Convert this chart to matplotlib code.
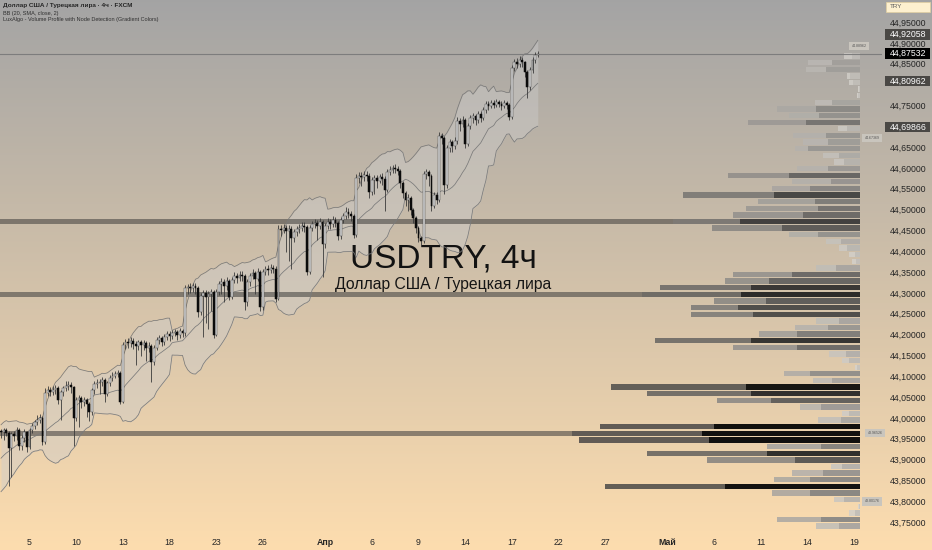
import numpy as np
import pandas as pd
import matplotlib
matplotlib.use('Agg')
import matplotlib.pyplot as plt
from matplotlib.patches import Rectangle

plt.rcParams['font.family'] = ['Liberation Sans', 'DejaVu Sans']

## 4h candles, USDTRY (FXCM), first bar 2026-03-03 04:00
first_open = 43.972
closes = [43.968, 43.973, 43.966, 43.930, 43.964, 43.959, 43.973, 43.935, 43.954, 43.968,
          43.932, 43.973, 43.983, 43.992, 43.997, 44.002, 43.944, 44.062, 44.069, 44.064,
          44.069, 44.074, 44.045, 44.064, 44.074, 44.079, 44.081, 44.076, 44.002, 44.045,
          44.050, 44.040, 44.045, 44.036, 44.016, 44.069, 44.084, 44.086, 44.088, 44.093,
          44.060, 44.086, 44.098, 44.103, 44.108, 44.110, 44.040, 44.177, 44.184, 44.182,
          44.187, 44.180, 44.175, 44.184, 44.177, 44.182, 44.170, 44.175, 44.136, 44.170,
          44.189, 44.194, 44.184, 44.196, 44.204, 44.199, 44.206, 44.208, 44.201, 44.211,
          44.206, 44.314, 44.316, 44.314, 44.319, 44.314, 44.256, 44.295, 44.302, 44.292,
          44.300, 44.304, 44.201, 44.304, 44.324, 44.328, 44.319, 44.331, 44.292, 44.333,
          44.343, 44.338, 44.345, 44.343, 44.280, 44.328, 44.343, 44.350, 44.336, 44.352,
          44.268, 44.352, 44.360, 44.357, 44.362, 44.360, 44.288, 44.456, 44.453, 44.458,
          44.451, 44.456, 44.434, 44.448, 44.456, 44.458, 44.463, 44.460, 44.352, 44.458,
          44.468, 44.470, 44.463, 44.472, 44.420, 44.463, 44.472, 44.468, 44.477, 44.470,
          44.439, 44.477, 44.487, 44.496, 44.492, 44.487, 44.441, 44.578, 44.583, 44.580,
          44.585, 44.583, 44.544, 44.573, 44.578, 44.571, 44.580, 44.576, 44.549, 44.592,
          44.597, 44.602, 44.600, 44.595, 44.566, 44.542, 44.525, 44.530, 44.501, 44.482,
          44.458, 44.434, 44.427, 44.588, 44.592, 44.583, 44.511, 44.537, 44.525, 44.679,
          44.674, 44.561, 44.650, 44.664, 44.655, 44.667, 44.715, 44.708, 44.717, 44.660,
          44.703, 44.722, 44.727, 44.717, 44.732, 44.722, 44.741, 44.756, 44.751, 44.758,
          44.753, 44.760, 44.756, 44.751, 44.758, 44.753, 44.724, 44.842, 44.856, 44.852,
          44.861, 44.856, 44.832, 44.796, 44.837, 44.861, 44.873, 44.87532]
highs = [43.976, 43.979, 43.977, 43.970, 43.968, 43.972, 43.980, 43.978, 43.962, 43.975,
         43.972, 43.978, 43.990, 43.998, 44.010, 44.012, 44.008, 44.075, 44.078, 44.076,
         44.080, 44.082, 44.079, 44.070, 44.080, 44.090, 44.092, 44.088, 44.080, 44.052,
         44.058, 44.056, 44.052, 44.050, 44.040, 44.075, 44.090, 44.095, 44.096, 44.100,
         44.098, 44.092, 44.105, 44.112, 44.116, 44.118, 44.114, 44.185, 44.192, 44.195,
         44.196, 44.194, 44.188, 44.190, 44.190, 44.190, 44.188, 44.185, 44.180, 44.178,
         44.196, 44.202, 44.200, 44.204, 44.212, 44.210, 44.214, 44.216, 44.214, 44.218,
         44.216, 44.322, 44.324, 44.325, 44.326, 44.325, 44.320, 44.302, 44.310, 44.310,
         44.308, 44.312, 44.310, 44.312, 44.332, 44.338, 44.335, 44.340, 44.336, 44.340,
         44.352, 44.350, 44.354, 44.356, 44.348, 44.336, 44.350, 44.360, 44.356, 44.362,
         44.358, 44.360, 44.368, 44.370, 44.372, 44.370, 44.366, 44.465, 44.465, 44.468,
         44.466, 44.465, 44.462, 44.455, 44.464, 44.468, 44.472, 44.472, 44.466, 44.465,
         44.476, 44.480, 44.478, 44.482, 44.478, 44.470, 44.482, 44.480, 44.486, 44.484,
         44.476, 44.484, 44.495, 44.508, 44.505, 44.500, 44.492, 44.588, 44.592, 44.592,
         44.596, 44.594, 44.590, 44.580, 44.586, 44.586, 44.588, 44.590, 44.582, 44.600,
         44.606, 44.610, 44.612, 44.608, 44.600, 44.572, 44.548, 44.540, 44.536, 44.506,
         44.488, 44.462, 44.440, 44.596, 44.600, 44.598, 44.588, 44.545, 44.545, 44.688,
         44.686, 44.680, 44.658, 44.672, 44.670, 44.676, 44.724, 44.722, 44.726, 44.722,
         44.710, 44.730, 44.735, 44.732, 44.740, 44.738, 44.748, 44.764, 44.762, 44.765,
         44.766, 44.768, 44.766, 44.764, 44.766, 44.764, 44.758, 44.850, 44.864, 44.866,
         44.870, 44.868, 44.860, 44.838, 44.844, 44.868, 44.880, 44.882]
lows = [43.955, 43.950, 43.958, 43.840, 43.860, 43.948, 43.950, 43.925, 43.925, 43.945,
        43.920, 43.928, 43.965, 43.975, 43.985, 43.990, 43.938, 43.940, 44.055, 44.055,
        44.058, 44.060, 44.035, 43.998, 44.055, 44.066, 44.070, 44.062, 43.935, 43.995,
        43.980, 44.025, 44.030, 44.005, 43.995, 44.010, 44.060, 44.075, 44.060, 44.080,
        44.040, 44.055, 44.080, 44.092, 44.098, 44.100, 44.035, 44.038, 44.168, 44.170,
        44.172, 44.168, 44.130, 44.165, 44.150, 44.165, 44.140, 44.160, 44.088, 44.130,
        44.165, 44.180, 44.175, 44.178, 44.190, 44.188, 44.192, 44.198, 44.190, 44.195,
        44.196, 44.200, 44.300, 44.302, 44.305, 44.300, 44.245, 44.250, 44.196, 44.230,
        44.215, 44.260, 44.195, 44.198, 44.298, 44.300, 44.280, 44.310, 44.285, 44.288,
        44.325, 44.325, 44.330, 44.332, 44.262, 44.272, 44.320, 44.335, 44.300, 44.330,
        44.258, 44.262, 44.345, 44.345, 44.350, 44.350, 44.280, 44.285, 44.440, 44.445,
        44.400, 44.380, 44.360, 44.425, 44.440, 44.445, 44.450, 44.448, 44.345, 44.348,
        44.450, 44.458, 44.430, 44.455, 44.340, 44.410, 44.455, 44.455, 44.460, 44.460,
        44.430, 44.432, 44.470, 44.480, 44.482, 44.475, 44.435, 44.436, 44.565, 44.560,
        44.570, 44.570, 44.530, 44.538, 44.540, 44.555, 44.565, 44.562, 44.500, 44.545,
        44.585, 44.590, 44.590, 44.585, 44.555, 44.530, 44.510, 44.500, 44.490, 44.470,
        44.445, 44.425, 44.418, 44.422, 44.575, 44.560, 44.500, 44.505, 44.515, 44.520,
        44.660, 44.540, 44.555, 44.640, 44.640, 44.648, 44.660, 44.690, 44.700, 44.650,
        44.655, 44.695, 44.710, 44.705, 44.710, 44.712, 44.718, 44.735, 44.742, 44.745,
        44.745, 44.748, 44.748, 44.742, 44.745, 44.744, 44.718, 44.720, 44.835, 44.842,
        44.845, 44.845, 44.820, 44.770, 44.790, 44.830, 44.855, 44.868]
# closes before the visible window (feed the first BB values)
pre_closes = [43.842, 43.851, 43.846, 43.860, 43.872, 43.868, 43.881, 43.895, 43.889, 43.902,
              43.915, 43.908, 43.924, 43.936, 43.930, 43.948, 43.957, 43.951, 43.966]

last_price = 44.87532
bb_labels = [44.92058, 44.80962, 44.69866]   # upper / basis / lower shown on the scale

## volume profile rows (top row first), total and dark part volume
vp_top = 44.8708
vp_step = 0.01589
vp_total = [16, 52, 54, 13, 11, 2, 3, 45, 83, 71,
            112, 22, 67, 57, 65, 37, 26, 63, 132, 68,
            88, 177, 102, 114, 127, 187, 148, 71, 34, 21,
            11, 8, 44, 127, 135, 200, 218, 146, 169, 169,
            44, 65, 101, 205, 127, 31, 18, 5, 76, 47,
            249, 213, 143, 60, 18, 42, 260, 288, 281, 93,
            213, 153, 29, 68, 86, 255, 88, 26, 2, 11,
            83, 44, 96]
vp_dark = [8, 28, 34, 10, 7, 1, 2, 28, 44, 41,
           54, 13, 34, 32, 52, 21, 16, 32, 71, 29,
           50, 86, 45, 42, 57, 120, 78, 42, 19, 13,
           5, 4, 24, 68, 91, 109, 119, 94, 122, 107,
           21, 32, 63, 109, 63, 14, 11, 3, 50, 28,
           114, 109, 89, 39, 11, 19, 146, 158, 151, 39,
           93, 65, 18, 37, 50, 135, 50, 16, 1, 5,
           39, 21, 63]
node_rows = [25, 36, 57]
node_levels = [44.88962, 44.67369, 43.96526, 43.80176]

## axis ticks
tick_dates = ['2026-03-05', '2026-03-10', '2026-03-13', '2026-03-18', '2026-03-23', '2026-03-26',
              '2026-04-01', '2026-04-06', '2026-04-09', '2026-04-14', '2026-04-17', '2026-04-22',
              '2026-04-27', '2026-05-01', '2026-05-06', '2026-05-11', '2026-05-14', '2026-05-19']
tick_labels = ['5', '10', '13', '18', '23', '26', 'Апр', '6', '9', '14', '17', '22',
               '27', 'Май', '6', '11', '14', '19']
price_ticks = np.arange(43.75, 44.951, 0.05)

## layout (pixels)
W, H = 932, 550
PX = 2.593      # px per bar
PPU = 416.67    # px per 1.0 of price
AXW, AXH = 882, 530

fig = plt.figure(figsize=(W / 100, H / 100), dpi=100)

# background gradient (gray -> peach)
bg = fig.add_axes([0, 0, 1, 1])
t = np.linspace(0, 1, 256)[:, None]
c_top = np.array([0.643, 0.643, 0.643])
c_bot = np.array([0.992, 0.866, 0.686])
grad = c_top * (1 - t) + c_bot * t
bg.imshow(grad[:, None, :], aspect='auto', extent=[0, 1, 0, 1])
bg.set_axis_off()

ax = fig.add_axes([0, (H - AXH) / H, AXW / W, AXH / H])
ax.patch.set_visible(False)
for s in ax.spines.values():
    s.set_visible(False)
xmin, xmax = -1 / PX, (AXW - 1) / PX
ax.set_xlim(xmin, xmax)
ax.set_ylim(44.95 - (AXH - 23) / PPU, 44.95 + 23 / PPU)

closes = np.array(closes)
n = len(closes)
idx = np.arange(n)
opens = np.r_[first_open, closes[:-1]]
highs = np.maximum(np.array(highs), np.maximum(opens, closes))
lows = np.minimum(np.array(lows), np.minimum(opens, closes))

# Bollinger bands (20, SMA, close, 2)
allc = pd.Series(np.r_[pre_closes, closes])
basis = allc.rolling(20).mean().to_numpy()[len(pre_closes):]
dev = allc.rolling(20).std(ddof=0).to_numpy()[len(pre_closes):]
upper, lower = basis + 2 * dev, basis - 2 * dev
ax.fill_between(idx, lower, upper, color='#cdcdcd', alpha=0.42, lw=0, zorder=1.5)
for line in (upper, lower, basis):
    ax.plot(idx, line, color='#7a7a7a', lw=0.55, zorder=2.5)

# watermark
ax.text(443 / W, 1 - 267 / H, 'USDTRY, 4ч', transform=fig.transFigure, ha='center',
        va='baseline', fontsize=24, color='#121212', zorder=1.8)
ax.text(443 / W, 1 - 289 / H, 'Доллар США / Турецкая лира', transform=fig.transFigure,
        ha='center', va='baseline', fontsize=11.3, color='#151515', zorder=1.8)

# volume profile
vt = np.array(vp_total, float)
vd = np.array(vp_dark, float)
rows = np.arange(len(vt))
yc = vp_top - rows * vp_step
xr = (860 - 1) / PX
v = vt / vt.max()
g = np.clip(0.79 - 0.86 * v, 0.02, 1)
gl = g + 0.27 * (1 - g)
dark_cols = [(a, a * 0.985, a * 0.96, 0.95) for a in g]
light_cols = [(a, a * 0.985, a * 0.96, 0.85) for a in gl]
bh = 0.0128
ax.barh(yc, (vt - vd) / PX, left=xr - vt / PX, height=bh, color=light_cols, lw=0, zorder=3)
ax.barh(yc, vd / PX, left=xr - vd / PX, height=bh, color=dark_cols, lw=0, zorder=3)
for k in node_rows:
    ax.barh(yc[k], xr - vt[k] / PX - xmin, left=xmin, height=0.0135,
            color='#4a4845', alpha=0.6, lw=0, zorder=2.2)

# candles
ax.vlines(idx, lows, highs, color='#3a3a3a', lw=0.6, zorder=4)
body_lo = np.minimum(opens, closes)
body_h = np.maximum(np.abs(closes - opens), 0.0015)
up = closes >= opens
ax.bar(idx[up], body_h[up], bottom=body_lo[up], width=0.72, color='#dcdcdc',
       edgecolor='#4a4a4a', lw=0.35, zorder=5)
ax.bar(idx[~up], body_h[~up], bottom=body_lo[~up], width=0.72, color='#0b0b0b',
       edgecolor='#0b0b0b', lw=0.35, zorder=5)

# last price line
ax.axhline(last_price, color='#7d7d7d', lw=0.8, zorder=3.5)

# node labels
ty = ax.get_yaxis_transform()
node_x = [859, 872, 875, 872]
node_dy = [2.2, 0, 0, 0]
for px, lv, dy in zip(node_x, node_levels, node_dy):
    ax.text(px / AXW, lv + dy / PPU, f'{lv:.5f}', transform=ty, ha='center', va='center',
            fontsize=2.6, color='#555555', clip_on=False, zorder=6,
            bbox=dict(boxstyle='square,pad=0.6', fc='#c9c5bd', ec='none'))

# price scale (ticks hidden behind the value boxes are skipped)
boxed = [bb_labels[0], last_price, bb_labels[1], bb_labels[2]]
for p in price_ticks:
    if min(abs(p - b) for b in boxed) * PPU < 6:
        continue
    ax.text(908 / AXW, p, f'{p:.5f}'.replace('.', ','), transform=ty, ha='center',
            va='center', fontsize=6.3, color='#262626', clip_on=False, zorder=6)
for p, fc in [(bb_labels[0], '#4a4845'), (last_price, '#000000'),
              (bb_labels[1], '#4a4845'), (bb_labels[2], '#4a4845')]:
    ax.add_patch(Rectangle((885 / AXW, p - 4.6 / PPU), 45 / AXW, 10.5 / PPU, transform=ty,
                           fc=fc, ec='none', clip_on=False, zorder=7))
    ax.text(908 / AXW, p + 0.6 / PPU, f'{p:.5f}'.replace('.', ','), transform=ty,
            ha='center', va='center', fontsize=6.3, color='white', clip_on=False, zorder=8)

# currency box
ax.add_patch(Rectangle((886 / AXW, 44.95 + 11 / PPU), 44 / AXW, 10 / PPU, transform=ty,
                       fc='#fdf0cf', ec='#e2cfa0', lw=0.5, clip_on=False, zorder=7))
ax.text(890 / AXW, 44.95 + 16 / PPU, 'TRY', transform=ty, ha='left', va='center',
        fontsize=4.5, color='#5a5a5a', clip_on=False, zorder=8)

# time axis
tick_idx = np.busday_count('2026-03-03', tick_dates) * 6 - 1
ax.set_xticks(tick_idx)
ax.set_xticklabels(tick_labels)
ax.tick_params(axis='x', length=0, pad=5.5, labelsize=6.3, labelcolor='#262626')
ax.set_yticks([])
for lab in ax.get_xticklabels():
    if lab.get_text() in ('Апр', 'Май'):
        lab.set_fontweight('bold')

# legend lines top-left
fig.text(3 / W, 1 - 6 / H, 'Доллар США / Турецкая лира · 4ч · FXCM', fontsize=4.6,
         fontweight='bold', va='center', color='#252525')
fig.text(3 / W, 1 - 13 / H, 'BB (20, SMA, close, 2)', fontsize=4.0, va='center', color='#303030')
fig.text(3 / W, 1 - 20 / H, 'LuxAlgo - Volume Profile with Node Detection (Gradient Colors)',
         fontsize=4.0, va='center', color='#303030')

fig.savefig('out.png', dpi=100)
